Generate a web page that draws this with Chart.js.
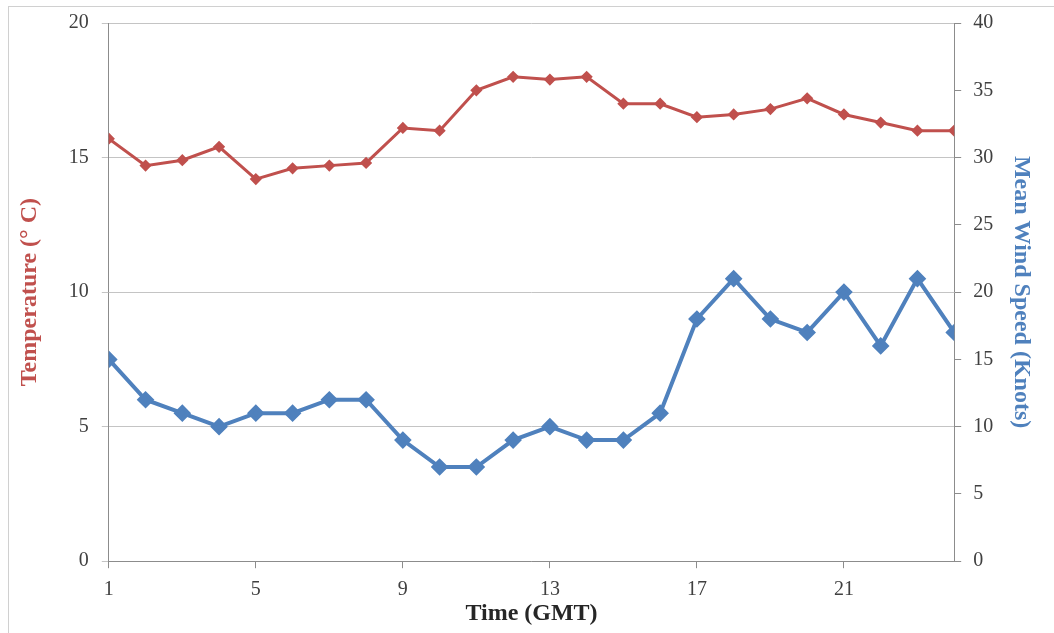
<!DOCTYPE html>
<html>
<head>
<meta charset="utf-8">
<title>Temperature and wind speed</title>
<script src="https://cdn.jsdelivr.net/npm/chart.js@4/dist/chart.umd.min.js"></script>
<style>
  html, body { margin: 0; padding: 0; background: #fff; }
  #frame {
    position: absolute; left: 8px; top: 6px; width: 1100px; height: 700px;
    border-left: 1px solid #d0d0d0; border-top: 1px solid #d0d0d0;
  }
  #wrap { position: absolute; left: 0; top: 0; width: 1054px; height: 633px; }
</style>
</head>
<body>
<div id="frame"></div>
<div id="wrap"><canvas id="chart" width="1054" height="633"></canvas></div>
<script>
// hourly readings, 1..24 GMT
const hours = [1, 2, 3, 4, 5, 6, 7, 8, 9, 10, 11, 12, 13, 14, 15, 16, 17, 18, 19, 20, 21, 22, 23, 24];
const temperature = [15.7, 14.7, 14.9, 15.4, 14.2, 14.6, 14.7, 14.8, 16.1, 16.0, 17.5, 18.0,
                     17.9, 18.0, 17.0, 17.0, 16.5, 16.6, 16.8, 17.2, 16.6, 16.3, 16.0, 16.0];
const windSpeed = [15, 12, 11, 10, 11, 11, 12, 12, 9, 7, 7, 9,
                   10, 9, 9, 11, 18, 21, 18, 17, 20, 16, 21, 17];
const hourTicks = [1, 5, 9, 13, 17, 21];
const tempTicks = [0, 5, 10, 15, 20];
const windTicks = [0, 5, 10, 15, 20, 25, 30, 35, 40];

const RED = '#c0504d';
const BLUE = '#4f81bd';
const AXIS = '#8c8c8c';
const serif = '"Liberation Serif", "Times New Roman", serif';
const tickFont = { family: serif, size: 20 };
// tighter line height on the value axes so the plot can start closer to the top
const sideTickFont = { family: serif, size: 20, lineHeight: 1.0 };
const titleFont = { family: serif, size: 24, weight: 'bold' };

const pairs = (vals) => hours.map((h, i) => ({x: h, y: vals[i]}));
const fixTicks = (list) => (scale) => { scale.ticks = list.map(v => ({value: v})); };

new Chart(document.getElementById('chart'), {
  type: 'line',
  data: {
    datasets: [
      {
        label: 'Temperature',
        data: pairs(temperature),
        yAxisID: 'y',
        borderColor: RED,
        backgroundColor: RED,
        borderWidth: 3,
        pointStyle: 'rectRot',
        pointRadius: 4,
        tension: 0
      },
      {
        label: 'Mean Wind Speed',
        data: pairs(windSpeed),
        yAxisID: 'y1',
        borderColor: BLUE,
        backgroundColor: BLUE,
        borderWidth: 4,
        pointStyle: 'rectRot',
        pointRadius: 6,
        tension: 0
      }
    ]
  },
  options: {
    responsive: false,
    animation: false,
    layout: { padding: { left: 8, right: 8, top: 12, bottom: 0 } },
    plugins: { legend: { display: false }, tooltip: { enabled: false } },
    scales: {
      x: {
        type: 'linear',
        min: 1,
        max: 24,
        afterBuildTicks: fixTicks(hourTicks),
        grid: { drawOnChartArea: false, tickLength: 7, color: AXIS },
        border: { color: AXIS },
        ticks: { color: '#404040', font: tickFont, padding: 10, maxRotation: 0 },
        title: {
          display: true, text: 'Time (GMT)', color: '#262626',
          font: titleFont, padding: { top: -13, bottom: 5 }
        }
      },
      y: {
        position: 'left',
        min: 0,
        max: 20,
        afterBuildTicks: fixTicks(tempTicks),
        grid: { color: '#c4c4c4', tickLength: 7 },
        border: { color: AXIS },
        ticks: { color: '#404040', font: sideTickFont, padding: 13 },
        title: {
          display: true, text: 'Temperature (° C)', color: RED,
          font: titleFont, padding: { top: 7, bottom: 12 }
        }
      },
      y1: {
        position: 'right',
        min: 0,
        max: 40,
        afterBuildTicks: fixTicks(windTicks),
        grid: { drawOnChartArea: false, tickLength: 7, color: AXIS },
        border: { color: AXIS },
        ticks: { color: '#404040', font: sideTickFont, padding: 12 },
        title: {
          display: true, text: 'Mean Wind Speed (Knots)', color: BLUE,
          font: titleFont, padding: { top: 10, bottom: 2 }
        }
      }
    }
  }
});
</script>
</body>
</html>
